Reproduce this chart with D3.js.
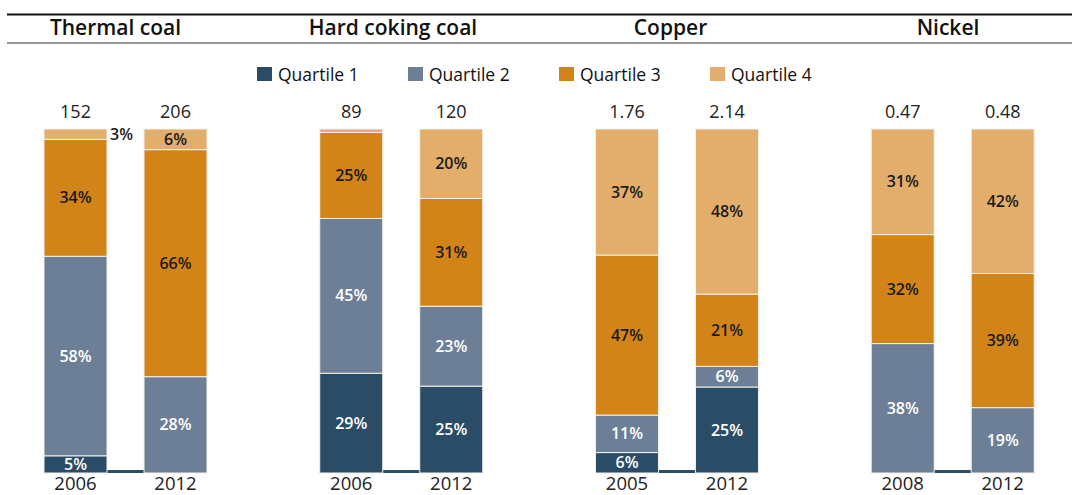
<!DOCTYPE html>
<html>
<head>
<meta charset="utf-8">
<script src="https://cdn.jsdelivr.net/npm/d3@7"></script>
<style>
  html, body { margin: 0; padding: 0; background: #fff; }
  svg { display: block; font-family: "Open Sans", "Lato", sans-serif; }
</style>
</head>
<body>
<svg id="chart" width="1072" height="495"></svg>
<script>
// Daten: Anteile je Quartil (in %), Summe pro Balken oben
const commodities = ["Thermal coal", "Hard coking coal", "Copper", "Nickel"];
const years = [["2006", "2012"], ["2006", "2012"], ["2005", "2012"], ["2008", "2012"]];
const totals = [["152", "206"], ["89", "120"], ["1.76", "2.14"], ["0.47", "0.48"]];
const quartiles = ["Quartile 1", "Quartile 2", "Quartile 3", "Quartile 4"];

const q1 = [[5, 0], [29, 25], [6, 25], [0, 0]];
const q2 = [[58, 28], [45, 23], [11, 6], [38, 19]];
const q3 = [[34, 66], [25, 31], [47, 21], [32, 39]];
const q4 = [[3, 6], [1, 20], [37, 48], [31, 42]];

const colors = ["#2a4c67", "#6d7f96", "#d38418", "#e3ad6b"];
const labelColors = ["#ffffff", "#ffffff", "#1a1a1a", "#1a1a1a"];

const svg = d3.select("#chart");

// Rahmenlinien oben
svg.append("line")
  .attr("x1", 7).attr("x2", 1072).attr("y1", 14.5).attr("y2", 14.5)
  .attr("stroke", "#111").attr("stroke-width", 2.2);
svg.append("line")
  .attr("x1", 7).attr("x2", 1072).attr("y1", 43).attr("y2", 43)
  .attr("stroke", "#333").attr("stroke-width", 1);

// Skalen
const titleX = d3.scalePoint().domain(commodities).range([115.5, 948]);
const panelX = d3.scalePoint().domain(commodities).range([125.5, 952.7]);
const barX = d3.scaleBand().domain([0, 1]).range([-81.5, 81.5])
  .paddingInner(0.37).paddingOuter(0);
const y = d3.scaleLinear().domain([0, 1]).range([473, 129]);
const color = d3.scaleOrdinal().domain(quartiles).range(colors);

// Titel
svg.selectAll("text.title")
  .data(commodities)
  .enter()
  .append("text")
    .attr("class", "title")
    .attr("x", d => titleX(d))
    .attr("y", 34.5)
    .attr("text-anchor", "middle")
    .attr("font-size", "21px")
    .attr("font-weight", 600)
    .attr("fill", "#111")
    .text(d => d);

// Legende
const legendX = d3.scalePoint().domain(quartiles).range([257, 710]);
const legend = svg.selectAll("g.legend")
  .data(quartiles)
  .enter()
  .append("g")
    .attr("class", "legend")
    .attr("transform", d => `translate(${legendX(d)},67)`);
legend.append("rect")
  .attr("width", 15).attr("height", 14)
  .attr("fill", d => color(d));
legend.append("text")
  .attr("x", 21).attr("y", 13.5)
  .attr("font-size", "17.5px")
  .attr("fill", "#111")
  .text(d => d);

// Balken je Rohstoff
const stack = d3.stack()
  .keys([0, 1, 2, 3])
  .value((d, k) => d[k])
  .offset(d3.stackOffsetExpand);

commodities.forEach((c, ci) => {
  const g = svg.append("g")
    .attr("transform", `translate(${panelX(c)},0)`);

  const rows = [0, 1].map(j => [q1[ci][j], q2[ci][j], q3[ci][j], q4[ci][j]]);
  const series = stack(rows);

  // Grundlinie in Quartil-1-Farbe
  g.append("rect")
    .attr("x", barX(0))
    .attr("y", y(0) - 3)
    .attr("width", barX(1) + barX.bandwidth() - barX(0))
    .attr("height", 3)
    .attr("fill", colors[0]);

  series.forEach((s, k) => {
    s.forEach((seg, j) => {
      const v = rows[j][k];
      if (v <= 0) return;
      g.append("rect")
        .attr("x", barX(j))
        .attr("y", y(seg[1]))
        .attr("width", barX.bandwidth())
        .attr("height", y(seg[0]) - y(seg[1]))
        .attr("fill", colors[k])
        .attr("stroke", "#f4f1ec")
        .attr("stroke-width", 1);

      if (v < 2) return;
      const mid = (y(seg[0]) + y(seg[1])) / 2;
      const outside = v < 5;
      g.append("text")
        .attr("x", outside ? barX(j) + barX.bandwidth() + 3 : barX(j) + barX.bandwidth() / 2)
        .attr("y", mid)
        .attr("dy", "0.35em")
        .attr("text-anchor", outside ? "start" : "middle")
        .attr("font-size", "16px")
        .attr("font-weight", 600)
        .attr("fill", outside ? "#1a1a1a" : labelColors[k])
        .text(v + "%");
    });
  });

  // Summen oben
  g.selectAll("text.total")
    .data(totals[ci])
    .enter()
    .append("text")
      .attr("class", "total")
      .attr("x", (d, j) => barX(j) + barX.bandwidth() / 2)
      .attr("y", 118)
      .attr("text-anchor", "middle")
      .attr("font-size", "18px")
      .attr("fill", "#222")
      .text(d => d);

  // Jahre unten
  g.selectAll("text.year")
    .data(years[ci])
    .enter()
    .append("text")
      .attr("class", "year")
      .attr("x", (d, j) => barX(j) + barX.bandwidth() / 2)
      .attr("y", 490)
      .attr("text-anchor", "middle")
      .attr("font-size", "18.5px")
      .attr("fill", "#222")
      .text(d => d);
});
</script>
</body>
</html>
